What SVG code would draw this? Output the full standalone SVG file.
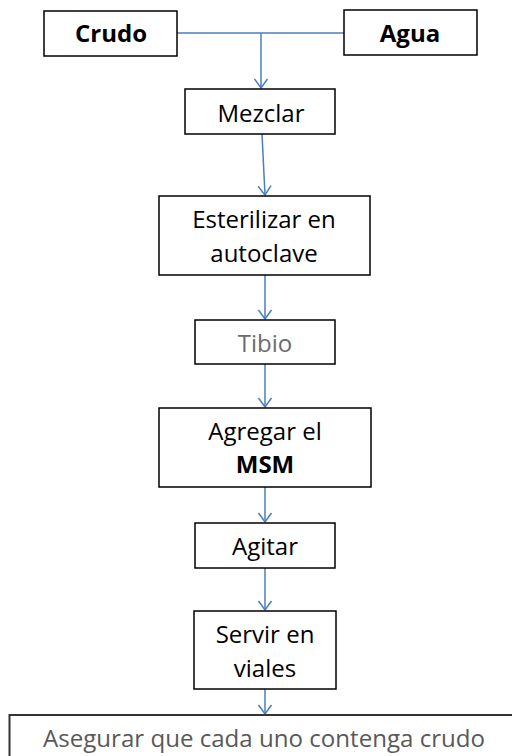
<svg xmlns="http://www.w3.org/2000/svg" width="512" height="756" viewBox="0 0 512 756">
<style>
.box{fill:#fff;stroke:#000;stroke-width:1.5}
.t{font-family:"Open Sans","Liberation Sans",Arial,sans-serif;font-size:24px;fill:#000;text-anchor:middle}
.b{font-weight:bold}
.g{fill:#6b6b6b}
.c{stroke:#4a7ebb;stroke-width:1.5;fill:none}
</style>
<defs>
<marker id="arr" markerUnits="userSpaceOnUse" markerWidth="16" markerHeight="16" refX="10" refY="7" orient="auto" viewBox="0 0 16 14">
<path d="M1,0.5 L10,7 L1,13.5" fill="none" stroke="#4a7ebb" stroke-width="1.5"/>
</marker>
</defs>
<rect width="512" height="756" fill="#fff"/>
<g id="connectors">
<line class="c" x1="177" y1="33" x2="344" y2="33"/>
<line class="c" x1="261" y1="33" x2="261" y2="88" marker-end="url(#arr)"/>
<line class="c" x1="262" y1="134" x2="265" y2="195" marker-end="url(#arr)"/>
<line class="c" x1="265" y1="275" x2="265" y2="319" marker-end="url(#arr)"/>
<line class="c" x1="265" y1="364" x2="265" y2="407" marker-end="url(#arr)"/>
<line class="c" x1="265" y1="487" x2="265" y2="522" marker-end="url(#arr)"/>
<line class="c" x1="265" y1="568" x2="265" y2="610" marker-end="url(#arr)"/>
<line class="c" x1="265" y1="689" x2="265" y2="714" marker-end="url(#arr)"/>
</g>
<g id="crudo"><rect class="box" x="44" y="11" width="133" height="45"/><text class="t b" x="111" y="42">Crudo</text></g>
<g id="agua"><rect class="box" x="344" y="10" width="133" height="45"/><text class="t b" x="410" y="42">Agua</text></g>
<g id="mezclar"><rect class="box" x="185" y="89" width="150" height="45"/><text class="t" x="261" y="122">Mezclar</text></g>
<g id="esterilizar"><rect class="box" x="159" y="196" width="211" height="79"/><text class="t" x="264" y="228">Esterilizar en</text><text class="t" x="264" y="262">autoclave</text></g>
<g id="tibio"><rect class="box" x="195" y="320" width="140" height="44"/><text class="t g" x="265" y="352">Tibio</text></g>
<g id="agregar"><rect class="box" x="159" y="408" width="212" height="79"/><text class="t" x="265" y="440">Agregar el</text><text class="t b" x="265" y="473">MSM</text></g>
<g id="agitar"><rect class="box" x="195" y="523" width="140" height="45"/><text class="t" x="265" y="555">Agitar</text></g>
<g id="servir"><rect class="box" x="194" y="611" width="142" height="78"/><text class="t" x="265" y="643">Servir en</text><text class="t" x="265" y="677">viales</text></g>
<g id="asegurar"><rect x="9.5" y="715" width="520" height="60" fill="#fff" stroke="#333" stroke-width="2"/><text class="t" x="264" y="747" style="fill:#595959" textLength="442" lengthAdjust="spacingAndGlyphs">Asegurar que cada uno contenga crudo</text></g>
</svg>
